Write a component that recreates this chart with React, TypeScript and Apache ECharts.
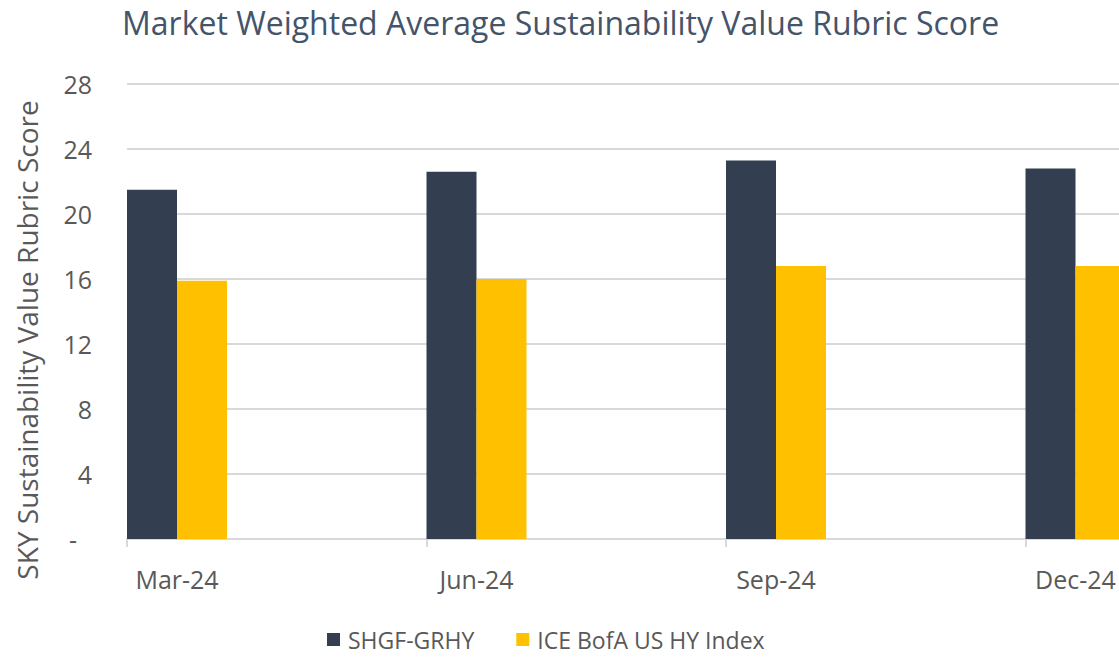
import React, { useEffect, useRef } from 'react';
import * as echarts from 'echarts';

const categories = ['Mar-24', 'Jun-24', 'Sep-24', 'Dec-24'];
const shgfValues = [21.5, 22.6, 23.3, 22.8];
const iceValues = [15.9, 16.0, 16.8, 16.8];
const seriesNames = ['SHGF-GRHY', 'ICE BofA US HY Index'];
const yMin = 0;
const yMax = 28;
const yStep = 4;
const titleText = 'Market Weighted Average Sustainability Value Rubric Score';
const yAxisTitle = 'SKY Sustainability Value Rubric Score';

const FONT = '"Open Sans", "Noto Sans", sans-serif';
const GRAY = '#595959';
const GRID = '#D9D9D9';
const DARK = '#333F50';
const GOLD = '#FFC000';

export default function App() {
  const ref = useRef<HTMLDivElement>(null);
  useEffect(() => {
    if (!ref.current) return;
    const chart = echarts.init(ref.current, null, { renderer: 'svg' });
    const W = 1119;
    const band = 299.5;
    const left = 127;
    const top = 84;
    const height = 455;
    chart.setOption({
      animation: false,
      backgroundColor: '#ffffff',
      title: {
        text: titleText,
        left: 117,
        top: 1,
        textStyle: { fontFamily: FONT, fontSize: 32, fontWeight: 'normal', color: '#44546A' },
      },
      legend: {
        data: seriesNames,
        left: 322,
        top: 623,
        icon: 'rect',
        itemWidth: 13,
        itemHeight: 13,
        itemGap: 42,
        textStyle: { fontFamily: FONT, fontSize: 23, color: GRAY, padding: [0, 0, 0, 3] },
      },
      graphic: [
        {
          type: 'text',
          x: 27,
          y: 340,
          rotation: Math.PI / 2,
          style: {
            text: yAxisTitle,
            fontFamily: FONT,
            fontSize: 28,
            fill: GRAY,
            align: 'center',
            verticalAlign: 'middle',
          },
        },
      ],
      grid: [
        { left, top, height, right: W - (left + band * 4), outerBoundsMode: 'none', containLabel: false },
        { left: left + 50, top, height, right: W - (left + 50 + band * 3), outerBoundsMode: 'none', containLabel: false },
      ],
      xAxis: [
        {
          type: 'category',
          gridIndex: 0,
          data: categories,
          boundaryGap: true,
          axisLine: { show: true, lineStyle: { color: GRID, width: 2 } },
          axisTick: { show: true, length: 8, lineStyle: { color: GRID, width: 2 } },
          axisLabel: { show: false },
        },
        {
          type: 'category',
          gridIndex: 1,
          data: categories,
          boundaryGap: false,
          axisLine: { show: false },
          axisTick: { show: false },
          axisLabel: { show: true, margin: 27, fontFamily: FONT, fontSize: 25, color: GRAY },
        },
      ],
      yAxis: [
        {
          type: 'value',
          gridIndex: 0,
          min: yMin,
          max: yMax,
          interval: yStep,
          axisLine: { show: false },
          axisTick: { show: false },
          splitLine: { show: true, lineStyle: { color: GRID, width: 2 } },
          axisLabel: {
            margin: 35,
            fontFamily: FONT,
            fontSize: 25,
            color: GRAY,
            formatter: (v: number) => (v === 0 ? '{d|-}' : String(v)),
            rich: { d: { fontFamily: FONT, fontSize: 25, color: GRAY, padding: [0, 15, 0, 0] } },
          },
        },
        {
          type: 'value',
          gridIndex: 1,
          min: yMin,
          max: yMax,
          interval: yStep,
          show: false,
          splitLine: { show: false },
        },
      ],
      series: [
        {
          name: seriesNames[0],
          type: 'bar',
          xAxisIndex: 1,
          yAxisIndex: 1,
          data: shgfValues,
          barWidth: 50,
          barGap: '0%',
          clip: false,
          itemStyle: { color: DARK },
        },
        {
          name: seriesNames[1],
          type: 'bar',
          xAxisIndex: 1,
          yAxisIndex: 1,
          data: iceValues,
          barWidth: 50,
          barGap: '0%',
          clip: false,
          itemStyle: { color: GOLD },
        },
      ],
    });
    return () => chart.dispose();
  }, []);
  return (
    <div
      ref={ref}
      style={{ position: 'fixed', left: 0, top: 0, width: 1119, height: 659, background: '#fff' }}
    />
  );
}
